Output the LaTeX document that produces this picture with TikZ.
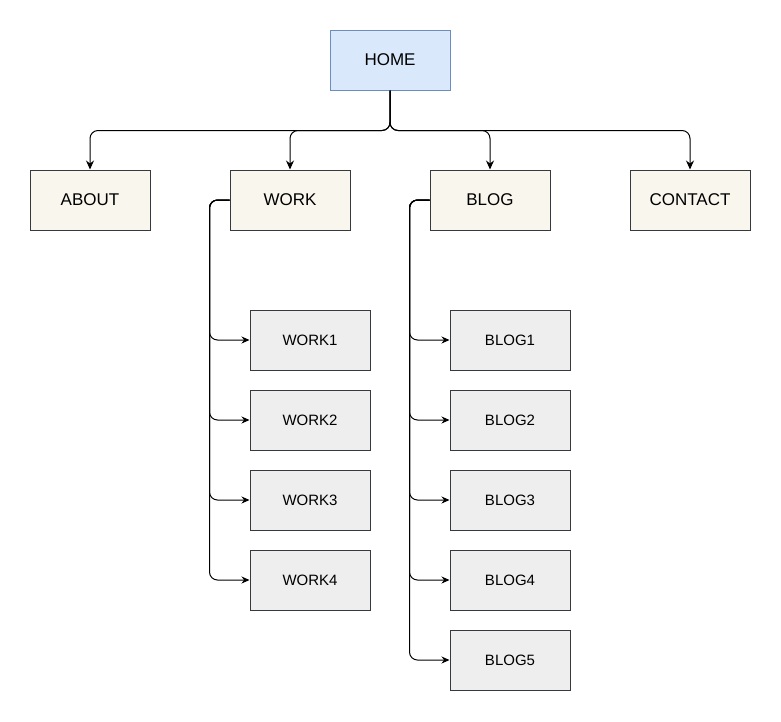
\documentclass[tikz,border=0pt]{standalone}
\usepackage{fontspec}
\setmainfont{Liberation Sans}
\usetikzlibrary{arrows.meta}
\definecolor{homefill}{HTML}{DAE8FC}
\definecolor{homeline}{HTML}{6C8EBF}
\definecolor{pagefill}{HTML}{F9F7ED}
\definecolor{subfill}{HTML}{EEEEEE}
\definecolor{boxline}{HTML}{36393D}
\tikzset{
    box/.style = {draw = boxline, minimum width = 120pt, minimum height = 60pt, inner sep = 0pt, text depth = 0pt, font = \fontsize{17}{20}\selectfont},
    homebox/.style = {box, draw = homeline, fill = homefill},
    pagebox/.style = {box, fill = pagefill},
    subbox/.style = {box, fill = subfill, font = \fontsize{15}{18}\selectfont},
    link/.style = {rounded corners = 8pt, -{Stealth[length = 9pt, width = 8pt]}},
    sublink/.style = {rounded corners = 8pt, -{Stealth[length = 8pt, width = 7pt]}}
}
\begin{document}
\begin{tikzpicture}[x = 1pt, y = -1pt, line width = 1pt]
        \useasboundingbox (0,0) rectangle (781,721);
        \node[homebox] (home) at (390,60) {HOME};
        \node[pagebox] (about) at (90,200) {ABOUT};
        \node[pagebox] (work) at (290,200) {WORK};
        \node[pagebox] (blog) at (490,200) {BLOG};
        \node[pagebox] (contact) at (690,200) {CONTACT};
        \foreach \p in {about, work, blog, contact}
            \draw[link] (home.south) -- ++(0,40) -| (\p.north);
        \begin{scope}[name prefix = work-]
            \foreach \i in {1,...,4}
                \node[subbox] (\i) at (310,260+80*\i) {WORK\i};
        \end{scope}
        \begin{scope}[name prefix = blog-]
            \foreach \i in {1,...,5}
                \node[subbox] (\i) at (510,260+80*\i) {BLOG\i};
        \end{scope}
        \foreach \i in {1,...,4}
            \draw[sublink] (work.west) -- ++(-20,0) |- (work-\i.west);
        \foreach \i in {1,...,5}
            \draw[sublink] (blog.west) -- ++(-20,0) |- (blog-\i.west);
    \end{tikzpicture}
\end{document}
